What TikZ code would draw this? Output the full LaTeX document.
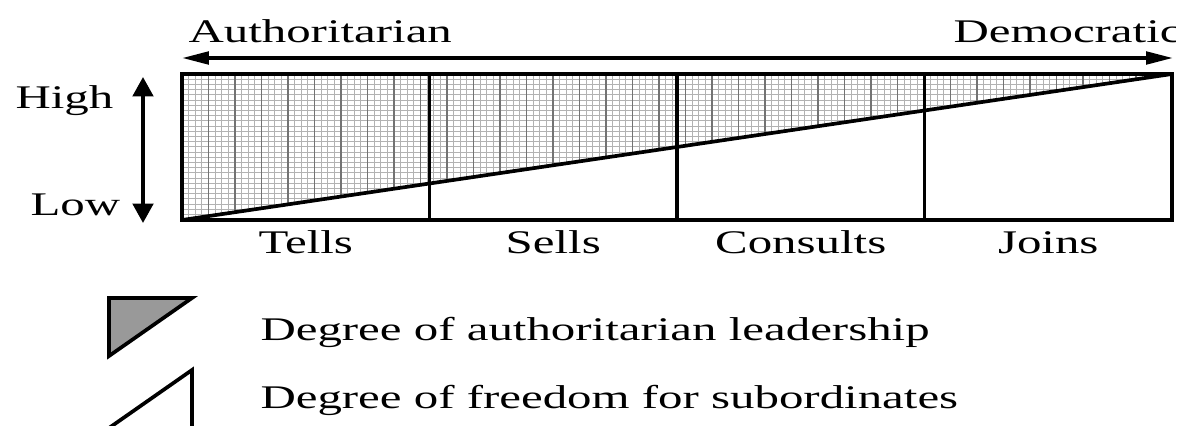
\documentclass[tikz,border=0pt]{standalone}
\usepackage{fontspec}
\setmainfont{Liberation Serif}
\usetikzlibrary{arrows.meta}
\tikzset{
  lbl/.style={inner sep=0pt, xscale=1.48, font=\fontsize{18.8pt}{22pt}\selectfont},
  heavy/.style={line width=2.1pt},
  finegrid/.style={black!30, line width=0.5pt},
  coarsegrid/.style={black!55, line width=0.7pt},
}
\begin{document}
\begin{tikzpicture}[x=0.02cm, y=-0.02cm]
  \useasboundingbox (0,0) rectangle (1194,426);
  \clip (0,0) rectangle (1175,426);
  % corners of the scale
  \coordinate (tl) at (182,74);
  \coordinate (tr) at (1172,74);
  \coordinate (bl) at (182,220);
  \coordinate (br) at (1172,220);
  % hatched triangle
  \begin{scope}
    \clip (bl) -- (tr) -- (tl) -- cycle;
    \foreach \gx in {182,188.625,...,1172} \draw[finegrid] (\gx,74) -- (\gx,220);
    \foreach \gy in {74,79.2,...,220} \draw[finegrid] (182,\gy) -- (1172,\gy);
    \foreach \gx in {208.5,235,...,1172} \draw[coarsegrid] (\gx,74) -- (\gx,220);
  \end{scope}
  \draw[heavy] (bl) -- (tr);
  \draw[heavy] (tl) rectangle (br);
  \foreach \dx in {429.5,677,924.5} \draw[heavy] (\dx,74) -- (\dx,220);
  % arrows
  \coordinate (al) at (182,58);
  \coordinate (ar) at (1173,58);
  \draw[heavy, {Triangle[length=5.4mm, width=2.5mm]}-{Triangle[length=5.4mm, width=2.5mm]}] (al) -- (ar);
  \coordinate (vt) at (143,77);
  \coordinate (vb) at (143,223);
  \draw[heavy, {Triangle[length=3.9mm, width=4.1mm]}-{Triangle[length=3.9mm, width=4.1mm]}] (vt) -- (vb);
  % labels
  \node[lbl, anchor=base west] (auth) at (188,42) {Authoritarian};
  \node[lbl, anchor=base west] (demo) at (953,42) {Democratic};
  \node[lbl, anchor=base west] (high) at (15,108) {High};
  \node[lbl, anchor=base west] (low) at (30,215) {Low};
  \foreach \name/\cx/\txt in {tells/305.75/Tells, sells/553.25/Sells, consults/800.75/Consults, joins/1048.25/Joins}
    \node[lbl, anchor=base] (\name) at (\cx,253) {\txt};
  % legend
  \draw[heavy, fill=black!40] (109,298) -- (192,298) -- (109,356) -- cycle;
  \draw[heavy] (192,370) -- (192,428) -- (109,428) -- cycle;
  \node[lbl, anchor=base west] (authdeg) at (260,340) {Degree of authoritarian leadership};
  \node[lbl, anchor=base west] (freedeg) at (260,408) {Degree of freedom for subordinates};
\end{tikzpicture}
\end{document}
